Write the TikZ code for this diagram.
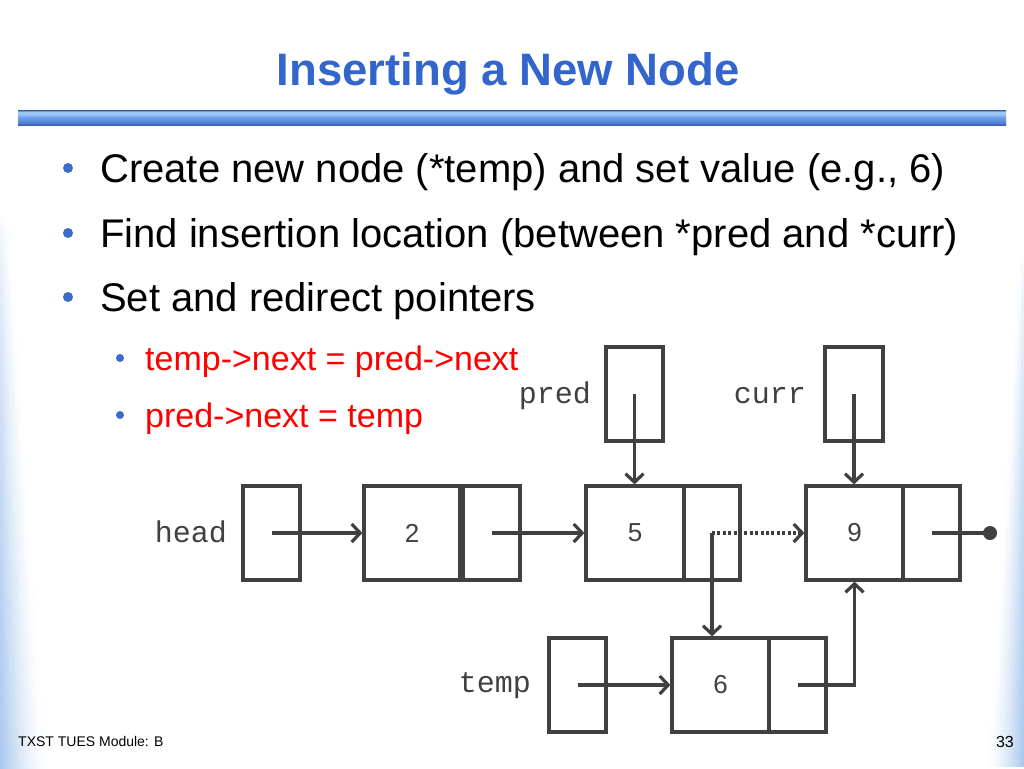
\documentclass[tikz,border=0pt]{standalone}
\usepackage{fontspec}
\setmainfont{Liberation Sans}
\newfontfamily\monof{Liberation Mono}
\usetikzlibrary{arrows.meta}

\definecolor{titleblue}{HTML}{3366CC}
\definecolor{bulletblue}{HTML}{3A6BC8}
\definecolor{linegray}{HTML}{404040}
\definecolor{bgblue}{HTML}{A6C6EC}
\definecolor{redtxt}{HTML}{FF0000}
\definecolor{barTop}{HTML}{3B5BA0}
\definecolor{barLight}{HTML}{9DC6F5}
\definecolor{barMid}{HTML}{6FA0EA}
\definecolor{barMid2}{HTML}{4F80D8}
\definecolor{barBot}{HTML}{3A5FB0}

\pgfdeclareverticalshading{titlebar}{100bp}{%
  color(0bp)=(barBot); color(25bp)=(barBot); color(32bp)=(barMid2);
  color(50bp)=(barMid); color(62bp)=(barLight); color(69bp)=(barLight);
  color(75bp)=(barTop); color(100bp)=(barTop)}

\tikzset{
  cell/.style={draw=linegray, line width=3.2pt, inner sep=0pt, minimum height=94pt,
    font=\fontsize{26}{30}\selectfont, text=linegray},
  ptrlabel/.style={font=\monof\fontsize{30}{34}\selectfont, text=linegray,
    anchor=base east, inner sep=0pt},
  link/.style={draw=linegray, line width=3.2pt, -{Straight Barb[length=8.5pt,width=18pt]}},
  plainlink/.style={draw=linegray, line width=3.2pt},
  mainitem/.style={anchor=base west, inner sep=0pt, font=\fontsize{40}{48}\selectfont, text=black},
  subitem/.style={anchor=base west, inner sep=0pt, font=\fontsize{34}{40}\selectfont, text=redtxt},
}

\begin{document}
\begin{tikzpicture}[x=1pt,y=-1pt]
\useasboundingbox (0,0) rectangle (1024,768);
\fill[white] (0,0) rectangle (1024,768);

% background edge gradients (left), flat colour tiles
\foreach \cx in {0,3,...,45}{
  \foreach \cy in {210,216,...,762}{
    \pgfmathsetmacro{\tt}{(\cy-210)/558}
    \pgfmathsetmacro{\ww}{10+38*\tt}
    \pgfmathsetmacro{\rr}{max(0,1-(\cx+1.5)/\ww)}
    \pgfmathtruncatemacro{\pp}{100*sqrt(\tt)*\rr*sqrt(\rr)}
    \ifnum\pp>0 \fill[bgblue!\pp!white] (\cx,\cy) rectangle (\cx+3.6,\cy+6.6);\fi
  }
}
% background edge gradients (right)
\foreach \dx in {0,3,...,36}{
  \foreach \cy in {250,256,...,762}{
    \pgfmathsetmacro{\tt}{(\cy-250)/518}
    \pgfmathsetmacro{\ww}{4+34*\tt}
    \pgfmathsetmacro{\rr}{max(0,1-(\dx+1.5)/\ww)}
    \pgfmathtruncatemacro{\pp}{100*sqrt(\tt)*\rr*sqrt(\rr)}
    \ifnum\pp>0 \fill[bgblue!\pp!white] (1024-\dx-3.6,\cy) rectangle (1024-\dx,\cy+6.6);\fi
  }
}

% title
\node[anchor=base, inner sep=0pt, font=\fontsize{45.5}{55}\selectfont\bfseries, text=titleblue]
  (title) at (508,85) {Inserting a New Node};
\shade[shading=titlebar] (18,110) rectangle (1006,125);

% bullets
\fill[bulletblue] (68,168) circle (5);
\fill[bulletblue] (68,233) circle (5);
\fill[bulletblue] (68,297) circle (5);
\node[mainitem] (b1) at (100,182) {Create new node (*temp) and set value (e.g., 6)};
\node[mainitem] (b2) at (100,247) {Find insertion location (between *pred and *curr)};
\node[mainitem] (b3) at (100,311) {Set and redirect pointers};
\fill[bulletblue] (120,358) circle (4);
\fill[bulletblue] (120,415) circle (4);
\node[subitem] (s1) at (145,370) {temp->next = pred->next};
\node[subitem] (s2) at (145,427) {pred->next = temp};

% diagram cells
\node[cell, minimum width=57pt] (headptr) at (271.5,533) {};
\node[cell, minimum width=96pt] (n2d) at (412,533) {2};
\node[cell, minimum width=57pt] (n2n) at (491.5,533) {};
\node[cell, minimum width=98pt] (n5d) at (635,533) {5};
\node[cell, minimum width=56pt] (n5n) at (712,533) {};
\node[cell, minimum width=97pt] (n9d) at (854.5,533) {9};
\node[cell, minimum width=57pt] (n9n) at (931.5,533) {};
\node[cell, minimum width=57pt] (predptr) at (634.5,394) {};
\node[cell, minimum width=58pt] (currptr) at (854,394) {};
\node[cell, minimum width=57pt] (tempptr) at (577.5,685) {};
\node[cell, minimum width=97pt] (n6d) at (720.5,685) {6};
\node[cell, minimum width=57pt] (n6n) at (797.5,685) {};

% labels
\node[ptrlabel] (headlbl) at (227,542) {head};
\node[ptrlabel] (predlbl) at (591,403) {pred};
\node[ptrlabel] (currlbl) at (806,403) {curr};
\node[ptrlabel] (templbl) at (531,692) {temp};

% connectors
\draw[link] (headptr.center) -- (n2d.west);
\draw[link] (n2n.center) -- (n5d.west);
\draw[link, dash pattern=on 3pt off 2.4pt] (n5n.center) -- (n9d.west);
\draw[link] (n5n.center) -- (n5n.center |- n6d.north);
\draw[link] (predptr.center) -- (predptr.center |- n5d.north);
\draw[link] (currptr.center) -- (currptr.center |- n9d.north);
\draw[link] (tempptr.center) -- (n6d.west);
\draw[link] (n6n.center) -| (n9d.south);
\coordinate (nullend) at (990,533);
\draw[plainlink] (n9n.center) -- (nullend);
\fill[linegray] (nullend) circle (7);

% footer
\node[anchor=base west, inner sep=0pt, font=\fontsize{14}{17}\selectfont] (footer) at (18,746) {TXST TUES Module: B};
\node[anchor=base east, inner sep=0pt, font=\fontsize{16}{19}\selectfont] (pageno) at (1014,747) {33};
\end{tikzpicture}
\end{document}
